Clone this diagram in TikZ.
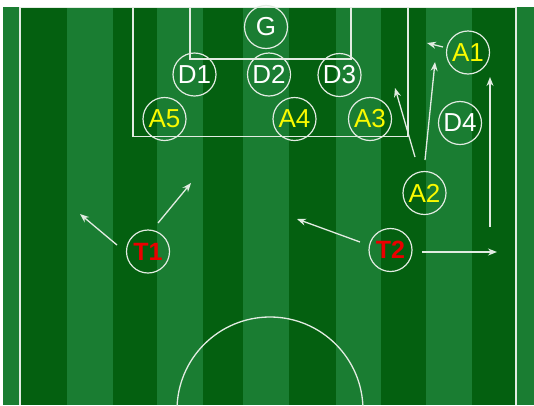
\documentclass[tikz,border=0pt]{standalone}
\usepackage{fontspec}
\setmainfont{Liberation Sans}
\usetikzlibrary{arrows.meta}
\definecolor{lgreen}{RGB}{26,125,50}
\definecolor{dgreen}{RGB}{4,96,16}
\definecolor{chalk}{RGB}{226,236,226}
\definecolor{ylw}{RGB}{250,250,0}
\definecolor{rd}{RGB}{235,0,0}
\tikzset{
  player/.style={circle,draw=chalk,line width=1.2pt,minimum size=43pt,inner sep=0pt,font=\fontsize{26}{26}\selectfont},
  att/.style={player,text=ylw},
  def/.style={player,text=white},
  tk/.style={player,text=rd,font=\fontsize{25}{25}\selectfont\bfseries},
  fieldline/.style={draw=chalk,line width=1.3pt},
  move/.style={draw=chalk,line width=1.3pt,-{Stealth[length=9pt,width=7pt]}}
}
\begin{document}
\begin{tikzpicture}[x=1pt,y=-1pt]
\useasboundingbox (0,0) rectangle (534,405);
\fill[white] (0,0) rectangle (534,405);
% stripes
\foreach \a/\b/\c in {3/20/lgreen,20/67/dgreen,67/113/lgreen,113/157/dgreen,157/203/lgreen,203/243/dgreen,243/289/lgreen,289/336/dgreen,336/381/lgreen,381/426/dgreen,426/472/lgreen,472/516/dgreen,516/534/lgreen}
  \fill[\c] (\a,7) rectangle (\b,405);
% field lines
\begin{scope}
\clip (0,0) rectangle (534,405);
\draw[fieldline] (20,405) -- (20,7.5) -- (516,7.5) -- (516,405);
\draw[fieldline] (133,7.5) -- (133,136.5) -- (408,136.5) -- (408,7.5);
\draw[fieldline] (190,7.5) -- (190,59) -- (351,59) -- (351,7.5);
\draw[fieldline] (270,410) circle (93);
\end{scope}
% players
\node[def] (G) at (266,27) {G};
\node[def] (D1) at (194.5,74.5) {D1};
\node[def] (D2) at (269,74.5) {D2};
\node[def] (D3) at (339.5,75) {D3};
\node[att] (A5) at (164.5,119) {A5};
\node[att] (A4) at (294.5,119) {A4};
\node[att] (A3) at (370,119) {A3};
\node[att] (A1) at (468,52.5) {A1};
\node[def] (D4) at (460,123) {D4};
\node[att] (A2) at (424.5,193) {A2};
\node[tk] (T1) at (148,251.5) {T1};
\node[tk] (T2) at (390.5,250) {T2};
% arrow ends
\coordinate (t1s1) at (117,245); \coordinate (t1e1) at (80,214);
\coordinate (t1s2) at (158,223); \coordinate (t1e2) at (191,183);
\coordinate (t2s1) at (360,242); \coordinate (t2e1) at (297,219);
\coordinate (t2s2) at (422,252); \coordinate (t2e2) at (497,252);
\coordinate (vs) at (490,227); \coordinate (ve) at (490,77);
\coordinate (a2s1) at (415,157); \coordinate (a2e1) at (395,88);
\coordinate (a2s2) at (425,160); \coordinate (a2e2) at (435,62);
\coordinate (a1s) at (443,47); \coordinate (a1e) at (427,43);
\draw[move] (t1s1) -- (t1e1);
\draw[move] (t1s2) -- (t1e2);
\draw[move] (t2s1) -- (t2e1);
\draw[move] (t2s2) -- (t2e2);
\draw[move] (vs) -- (ve);
\draw[move] (a2s1) -- (a2e1);
\draw[move] (a2s2) -- (a2e2);
\draw[move] (a1s) -- (a1e);
\end{tikzpicture}
\end{document}
